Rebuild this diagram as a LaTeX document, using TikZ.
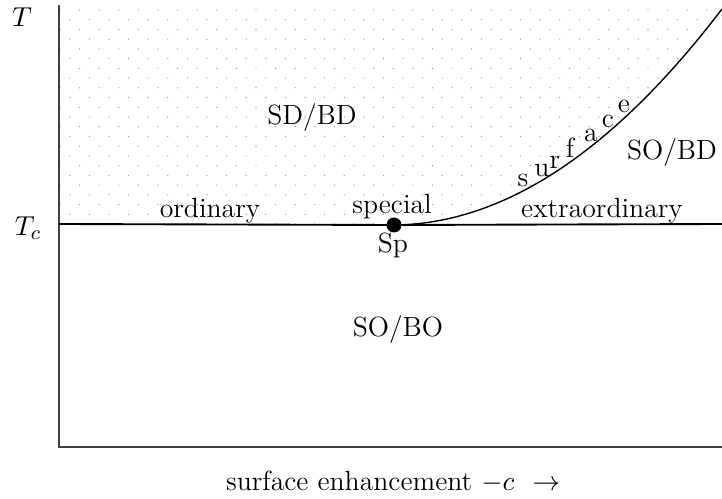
\documentclass[tikz,border=0pt]{standalone}
\usepackage{amsmath}
\usetikzlibrary{calc}

\begin{document}
\begin{tikzpicture}[
    x=0.4pt, y=-0.4pt,
    every node/.style={font=\fontsize{11.1}{13}\selectfont, inner sep=1pt},
    axisline/.style={line width=0.55pt, black!75},
    phaseline/.style={line width=0.75pt, black},
    curveline/.style={line width=0.55pt, black},
    region/.style={anchor=center},
    letter/.style={anchor=base, inner sep=0pt},
    griddot/.style={fill=black!50, draw=none}
]
    \useasboundingbox (0,0) rectangle (722,499);

    % corners of the diagram
    \coordinate (top) at (59,5);
    \coordinate (origin) at (59,447);
    \coordinate (right) at (722,447);
    \coordinate (tcleft) at (59,224);
    \coordinate (tcright) at (722,224);
    \coordinate (curveend) at (722,9);

    % dotted region (surface disordered)
    \begin{scope}
        \clip (59,3) -- (tcleft) -- (394,224)
            .. controls (503.3,224) and (612.7,152.3) .. (curveend)
            -- (722,3) -- cycle;
        \foreach \j in {0,...,22}{
            \pgfmathsetmacro{\yy}{10+9.727*\j}
            \pgfmathsetmacro{\xo}{isodd(\j) ? 9.8 : 0}
            \foreach \i in {0,...,33}{
                \fill[griddot] ({60+\xo+19.6*\i},\yy) circle (0.24pt);
            }
        }
    \end{scope}

    % axes
    \draw[axisline] (top) -- (origin) -- (right);

    % special point
    \node[circle, fill=black, inner sep=0pt, minimum size=6pt] (sp) at (394,225) {};

    % transition lines
    \draw[phaseline] (tcleft) -- (sp.center) -- (tcright);
    \draw[curveline] (sp.center) .. controls (503.3,224) and (612.7,152.3) .. (curveend);

    % axis labels
    \node (tlbl) at (22,17) {$T$};
    \node (tclbl) at (28,228) {$T_c$};
    \node (xlbl) at (393,482) {surface enhancement $-c$ \ $\rightarrow$};

    % phase labels
    \node[region] (sdbd) at (312,118) {SD/BD};
    \node[region] (sobd) at (672,153) {SO/BD};
    \node[region] (sobo) at (398,330) {SO/BO};

    % transition labels
    \node (ordinary) at (210,211) {ordinary};
    \node (special) at (392,207) {special};
    \node (splbl) at (393,245) {Sp};
    \node (extra) at (602,211) {extraordinary};

    % letters along the curve
    \node[letter] (ls) at (523,187) {s};
    \node[letter] (lu) at (542,177) {u};
    \node[letter] (lr) at (555,169) {r};
    \node[letter] (lf) at (570,158) {f};
    \node[letter] (la) at (591,142) {a};
    \node[letter] (lc) at (608,128) {c};
    \node[letter] (le) at (624,113) {e};
\end{tikzpicture}
\end{document}
